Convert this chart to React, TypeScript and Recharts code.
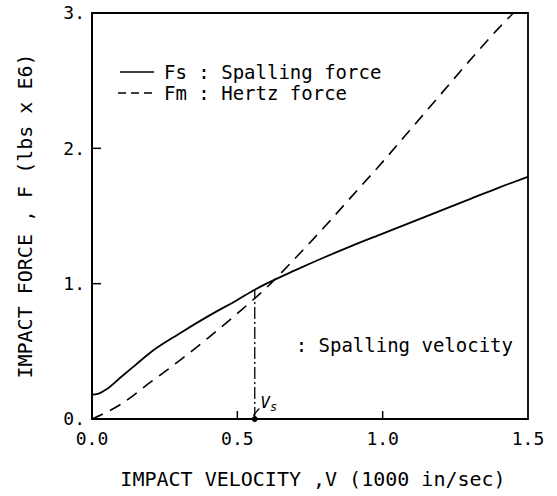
import { LineChart, Line, XAxis, YAxis, ReferenceArea, ReferenceLine, ReferenceDot, Label } from 'recharts';

// spalling force Fs (solid)
const fsVelocity = [0, 0.02, 0.05, 0.1, 0.15, 0.2, 0.3, 0.4, 0.5, 0.56, 0.6, 0.7, 0.8, 0.9, 1.0, 1.1, 1.2, 1.3, 1.4, 1.5];
const fsForce = [0.18, 0.185, 0.22, 0.31, 0.4, 0.49, 0.63, 0.76, 0.88, 0.955, 1.0, 1.1, 1.195, 1.285, 1.37, 1.455, 1.54, 1.625, 1.71, 1.79];

// Hertz force Fm (dashed)
const fmVelocity = [0, 0.1, 0.2, 0.3, 0.4, 0.5, 0.6, 0.7, 0.8, 0.9, 1.0, 1.1, 1.2, 1.3, 1.4, 1.45];
const fmForce = [0, 0.11, 0.27, 0.43, 0.6, 0.78, 0.97, 1.19, 1.42, 1.66, 1.9, 2.15, 2.4, 2.65, 2.89, 3.0];

const spallingVelocity = 0.56;
const spallingForce = 0.955;

const xTicks = [0, 0.5, 1.0, 1.5];
const yTicks = [0, 1, 2, 3];
const xTickLabels = ['0.0', '0.5', '1.0', '1.5'];
const yTickLabels = ['0.', '1.', '2.', '3.'];

const fsData = fsVelocity.map((v, i) => ({ v, f: fsForce[i] }));
const fmData = fmVelocity.map((v, i) => ({ v, f: fmForce[i] }));

const FONT = '"DejaVu Sans Mono", monospace';

function XTick({ x, y, payload }: any) {
  const i = xTicks.indexOf(payload.value);
  const inner = payload.value > 0 && payload.value < 1.5;
  return (
    <g>
      {inner && <line x1={x} y1={y} x2={x} y2={y - 8} stroke="#000" strokeWidth={1.5} />}
      <text x={x} y={y + 26} textAnchor="middle" fontFamily={FONT} fontSize={18} fill="#000">
        {xTickLabels[i]}
      </text>
    </g>
  );
}

function YTick({ x, y, payload }: any) {
  const i = yTicks.indexOf(payload.value);
  const inner = payload.value > 0 && payload.value < 3;
  return (
    <g>
      {inner && <line x1={x} y1={y} x2={x + 9} y2={y} stroke="#000" strokeWidth={1.5} />}
      <text x={x - 7} y={y} dy="0.36em" textAnchor="end" fontFamily={FONT} fontSize={18} fill="#000">
        {yTickLabels[i]}
      </text>
    </g>
  );
}

function LegendBox() {
  const row = { display: 'flex', alignItems: 'center', height: 21 } as const;
  const txt = { fontFamily: FONT, fontSize: 19, color: '#000', marginLeft: 10, whiteSpace: 'pre' } as const;
  return (
    <div style={{ position: 'absolute', left: 118, top: 61 }}>
      <div style={row}>
        <svg width={36} height={6}><line x1={2} y1={3} x2={36} y2={3} stroke="#000" strokeWidth={1.6} /></svg>
        <span style={txt}>Fs : Spalling force</span>
      </div>
      <div style={row}>
        <svg width={36} height={6}><line x1={0} y1={3} x2={36} y2={3} stroke="#000" strokeWidth={1.6} strokeDasharray="8 5" /></svg>
        <span style={txt}>Fm : Hertz force</span>
      </div>
    </div>
  );
}

function VsMark({ viewBox }: any) {
  const { x, y } = viewBox;
  return (
    <g>
      <line x1={x + 1} y1={y - 1} x2={x + 7} y2={y - 8} stroke="#000" strokeWidth={1.2} />
      <text x={x + 8} y={y - 9} fontFamily={FONT} fontSize={16} fontStyle="italic" fill="#000">
        V<tspan fontSize={12} dy={3}>s</tspan>
      </text>
    </g>
  );
}

export default function App() {
  return (
    <div style={{ position: 'absolute', left: 0, top: 0, width: 557, height: 496, background: '#fff' }}>
      <LineChart width={557} height={496} margin={{ top: 13, right: 29, left: 0, bottom: 0 }}>
        <XAxis
          type="number"
          dataKey="v"
          domain={[0, 1.5]}
          ticks={xTicks}
          height={77}
          tickSize={0}
          tickMargin={0}
          tickLine={false}
          axisLine={{ stroke: '#000', strokeWidth: 1.8 }}
          tick={<XTick />}
          allowDuplicatedCategory={false}
        >
          <Label
            content={({ viewBox }: any) => (
              <text
                x={viewBox.x + viewBox.width / 2 + 3}
                y={viewBox.y + 67}
                textAnchor="middle"
                fontFamily={FONT}
                fontSize={20}
                fill="#000"
                style={{ whiteSpace: 'pre' }}
              >
                IMPACT VELOCITY ,V (1000 in/sec)
              </text>
            )}
          />
        </XAxis>
        <YAxis
          type="number"
          domain={[0, 3]}
          ticks={yTicks}
          width={92}
          tickSize={0}
          tickMargin={0}
          tickLine={false}
          axisLine={{ stroke: '#000', strokeWidth: 1.8 }}
          tick={<YTick />}
        >
          <Label
            content={({ viewBox }: any) => {
              const cx = viewBox.x + 25;
              const cy = viewBox.y + viewBox.height / 2;
              return (
                <text
                  x={cx}
                  y={cy}
                  transform={`rotate(-90 ${cx} ${cy})`}
                  textAnchor="middle"
                  dy="0.36em"
                  fontFamily={FONT}
                  fontSize={20}
                  fill="#000"
                  style={{ whiteSpace: 'pre' }}
                >
                  IMPACT FORCE , F (lbs x E6)
                </text>
              );
            }}
          />
        </YAxis>
        <ReferenceArea x1={0} x2={1.5} y1={0} y2={3} fill="none" stroke="#000" strokeWidth={1.8} ifOverflow="visible" />
        <ReferenceLine
          segment={[{ x: spallingVelocity, y: 0 }, { x: spallingVelocity, y: spallingForce }]}
          stroke="#000"
          strokeWidth={1.3}
          strokeDasharray="12 3 2 3"
        />
        <ReferenceLine
          x={1.5}
          stroke="none"
          label={{
            value: ': Spalling velocity',
            position: 'insideBottomRight',
            dx: -10,
            dy: -62,
            fontFamily: FONT,
            fontSize: 19,
            fill: '#000',
            style: { whiteSpace: 'pre' },
          } as any}
        />
        <ReferenceDot x={spallingVelocity} y={0} r={2.5} fill="#000" stroke="#000" ifOverflow="visible" label={<VsMark />} />
        <Line
          data={fsData}
          dataKey="f"
          type="monotone"
          stroke="#000"
          strokeWidth={1.8}
          dot={false}
          isAnimationActive={false}
        />
        <Line
          data={fmData}
          dataKey="f"
          type="monotone"
          stroke="#000"
          strokeWidth={1.6}
          strokeDasharray="12 8"
          dot={false}
          isAnimationActive={false}
        />
      </LineChart>
      <LegendBox />
    </div>
  );
}
